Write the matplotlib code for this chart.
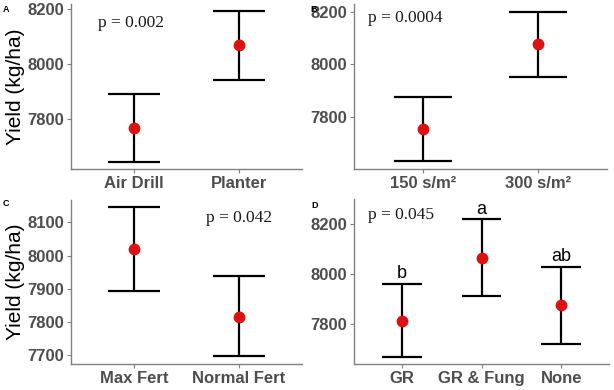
import numpy as np
import matplotlib
matplotlib.use("Agg")
import matplotlib.pyplot as plt

# panel data: mean, lower and upper error bar end (kg/ha)
a_groups = ["Air Drill", "Planter"]
a_mean = [7770, 8068]
a_low = [7647, 7944]
a_high = [7891, 8191]

b_groups = ["150 s/m²", "300 s/m²"]
b_mean = [7754, 8078]
b_low = [7629, 7950]
b_high = [7876, 8201]

c_groups = ["Max Fert", "Normal Fert"]
c_mean = [8019, 7815]
c_low = [7894, 7695]
c_high = [8146, 7939]

d_groups = ["GR", "GR & Fung", "None"]
d_mean = [7814, 8064, 7876]
d_low = [7670, 7913, 7720]
d_high = [7961, 8220, 8030]
d_letters = ["b", "a", "ab"]

W, H = 614, 390
fig = plt.figure(figsize=(W / 100, H / 100), dpi=100)

grey = "#4d4d4d"


def make_axes(left, top, right, bottom):
    return fig.add_axes([left / W, 1 - bottom / H, (right - left) / W, (bottom - top) / H])


def panel(ax, groups, mean, low, high, ylim, yticks):
    x = np.arange(len(groups))
    ax.vlines(x, low, high, color="black", lw=1.6, zorder=2)
    ax.hlines(low, x - 0.25, x + 0.25, color="black", lw=1.6, zorder=2)
    ax.hlines(high, x - 0.25, x + 0.25, color="black", lw=1.6, zorder=2)
    ax.plot(x, mean, "o", color="#dd1111", ms=7.5, zorder=3)
    ax.set_xlim(-0.6, len(groups) - 0.4)
    ax.set_ylim(*ylim)
    ax.set_xticks(x)
    ax.set_xticklabels(groups)
    ax.set_yticks(yticks)
    for s in ["top", "right"]:
        ax.spines[s].set_visible(False)
    for s in ["left", "bottom"]:
        ax.spines[s].set_color("#808080")
        ax.spines[s].set_linewidth(1.0)
    ax.tick_params(length=3, width=0.8, color="#808080", labelcolor=grey,
                   labelsize=12, pad=2)
    for t in ax.get_xticklabels() + ax.get_yticklabels():
        t.set_fontweight("bold")
        t.set_family("Liberation Sans")


axA = make_axes(71, 4, 302, 169)
axB = make_axes(354, 4, 607, 169)
axC = make_axes(71, 200, 302, 364)
axD = make_axes(354, 199, 609, 364)

panel(axA, a_groups, a_mean, a_low, a_high, (7620, 8218), [7800, 8000, 8200])
panel(axB, b_groups, b_mean, b_low, b_high, (7600, 8230), [7800, 8000, 8200])
panel(axC, c_groups, c_mean, c_low, c_high, (7672, 8168), [7700, 7800, 7900, 8000, 8100])
panel(axD, d_groups, d_mean, d_low, d_high, (7641, 8300), [7800, 8000, 8200])

for ax in [axA, axC]:
    ax.set_ylabel("Yield (kg/ha)", fontsize=15, family="Liberation Sans")
    ax.yaxis.set_label_coords(-0.199, 0.5)

pfont = dict(family="Liberation Serif", fontsize=12.5, color="#1a1a1a",
             ha="center", va="center")
axA.text(-0.03, 8150, "p = 0.002", **pfont)
axB.text(-0.15, 8175, "p = 0.0004", **pfont)
axC.text(1.0, 8115, "p = 0.042", **pfont)
axD.text(-0.01, 8237, "p = 0.045", **pfont)

for i, lab in enumerate(d_letters):
    axD.annotate(lab, (i, d_high[i]), xytext=(0, 1), textcoords="offset points",
                 ha="center", va="bottom", fontsize=13, family="Liberation Sans")

for lab, x, y in [("A", 6, 10), ("B", 314, 9), ("C", 6, 204), ("D", 315, 205)]:
    fig.text(x / W, 1 - y / H, lab, fontsize=6.5, fontweight="bold",
             ha="center", va="center", family="Liberation Sans")

fig.savefig("out.png", dpi=100)
